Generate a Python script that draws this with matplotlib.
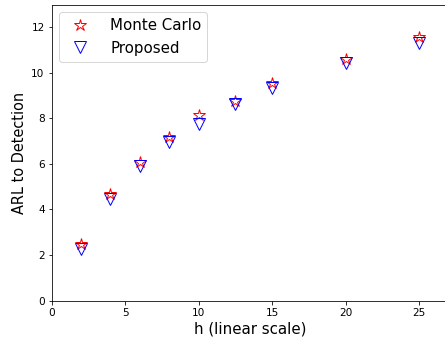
import matplotlib
matplotlib.use("Agg")
import matplotlib.pyplot as plt

h_values = [2, 4, 6, 8, 10, 12.5, 15, 20, 25]
monte_carlo = [2.47, 4.67, 6.10, 7.19, 8.14, 8.78, 9.57, 10.63, 11.60]
proposed = [2.25, 4.47, 5.91, 6.97, 7.77, 8.62, 9.35, 10.43, 11.31]
x_ticks = [0, 5, 10, 15, 20, 25]
y_ticks = [0, 2, 4, 6, 8, 10, 12]

dpi = 72
fig = plt.figure(figsize=(445 / dpi, 342 / dpi), dpi=dpi)
ax = fig.add_axes([0.1162, 0.1213, 0.8914, 0.865])

ax.plot(h_values, monte_carlo, linestyle='none', marker='*', markersize=12,
        markerfacecolor='none', markeredgecolor='red', markeredgewidth=1.0,
        label='Monte Carlo')
ax.plot(h_values, proposed, linestyle='none', marker='v', markersize=12,
        markerfacecolor='none', markeredgecolor='blue', markeredgewidth=1.0,
        label='Proposed')

ax.set_xlim(0, 27)
ax.set_ylim(0, 13)
ax.set_xticks(x_ticks)
ax.set_yticks(y_ticks)
ax.tick_params(labelsize=10.5)
ax.set_xlabel('h (linear scale)', fontsize=15)
ax.set_ylabel('ARL to Detection', fontsize=14.5)
ax.legend(loc='upper left', fontsize=15, numpoints=1, handletextpad=1.0)

fig.savefig('out.png', dpi=dpi)
